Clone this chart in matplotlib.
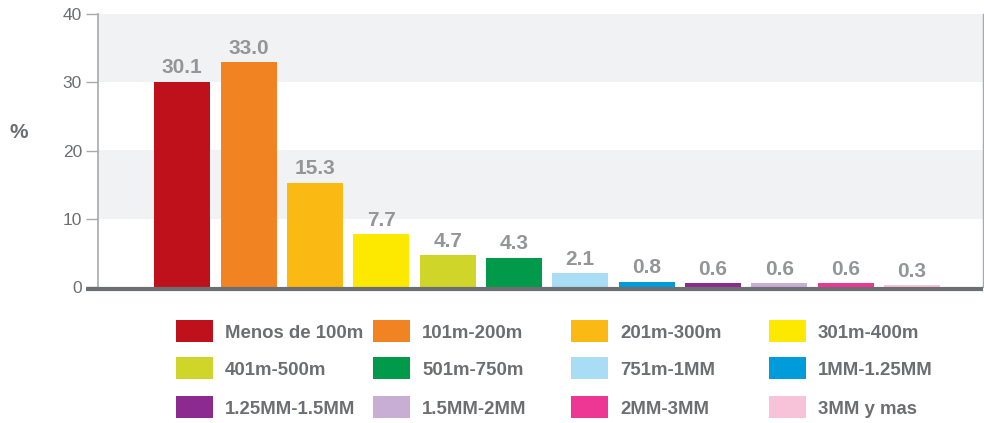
import numpy as np
import matplotlib
matplotlib.use("Agg")
from matplotlib import pyplot as plt
from matplotlib.patches import Rectangle
from matplotlib.lines import Line2D

## data
##------------------------------------------------------------------------
categories = ["Menos de 100m", "101m-200m", "201m-300m", "301m-400m",
              "401m-500m", "501m-750m", "751m-1MM", "1MM-1.25MM",
              "1.25MM-1.5MM", "1.5MM-2MM", "2MM-3MM", "3MM y mas"]
values = [30.1, 33.0, 15.3, 7.7, 4.7, 4.3, 2.1, 0.8, 0.6, 0.6, 0.6, 0.3]
colors = ["#be111b", "#f28323", "#fbb914", "#fde800", "#d0d52a", "#009a4a",
          "#a8ddf5", "#009bdb", "#8c2a8f", "#c8aed4", "#ee3795", "#f6c3d9"]
yticks = [0, 10, 20, 30, 40]

plt.rcParams['font.family'] = ['Liberation Sans', 'DejaVu Sans']

W, H = 984, 423
fig = plt.figure(figsize=(W / 100, H / 100), dpi=100)
## zero sits right on top of the thick base line
ax = fig.add_axes([98 / W, 1 - 287 / H, (983 - 98) / W, (287 - 14) / H])

## background bands
ax.axhspan(10, 20, color="#f1f2f4", lw=0, zorder=0)
ax.axhspan(30, 40, color="#f1f2f4", lw=0, zorder=0)

x = np.arange(len(values))
bars = ax.bar(x, values, width=0.845, color=colors, zorder=2)
for xi, v in zip(x, values):
  ax.annotate("%.1f" % v, (xi, v), xytext=(0, 3), textcoords="offset points",
              ha="center", va="bottom", fontsize=15, fontweight="bold",
              color="#939598")

ax.set_xlim(-1.27, 12.07)
ax.set_ylim(0, 40)
ax.set_xticks([])
ax.set_yticks(yticks)
ax.tick_params(axis="y", length=8.5, width=1, color="#a7a9ac",
               labelsize=12.5, labelcolor="#6d6e71", pad=3)

ax.spines["top"].set_visible(False)
ax.spines["left"].set_color("#a7a9ac")
ax.spines["left"].set_linewidth(1.2)
ax.spines["right"].set_color("#a7a9ac")
ax.spines["right"].set_linewidth(1)
ax.spines["bottom"].set_visible(False)

## thick base line, runs a bit left of the axis
fig.add_artist(Line2D([86 / W, 983 / W], [1 - 289 / H, 1 - 289 / H],
                      color="#6d6e71", lw=3, solid_capstyle="butt"))

fig.text(18.5 / W, 1 - 133 / H, "%", fontsize=15, fontweight="bold",
         color="#6d6e71", ha="center", va="center")

## legend grid
patch_x = [176, 373, 571, 769]
text_x = [225, 422, 620, 818]
row_y = [331, 368, 407]
for i, (lab, c) in enumerate(zip(categories, colors)):
  r, col = divmod(i, 4)
  px, py = patch_x[col], row_y[r]
  fig.add_artist(Rectangle((px / W, 1 - (py + 11) / H), 37 / W, 22 / H,
                           color=c, transform=fig.transFigure, lw=0))
  fig.text(text_x[col] / W, 1 - (py + 2) / H, lab, fontsize=13.4,
           fontweight="bold", color="#6d6e71", ha="left", va="center")

fig.savefig("out.png", dpi=100)
